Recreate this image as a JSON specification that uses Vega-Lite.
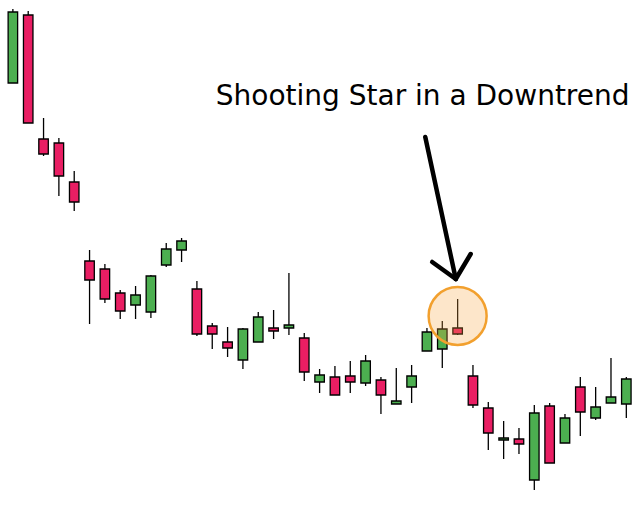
{
  "$schema": "https://vega.github.io/schema/vega-lite/v6.json",
  "width": 637,
  "height": 509,
  "padding": 0,
  "autosize": {"type": "fit", "contains": "padding"},
  "background": "white",
  "config": {"view": {"stroke": null}},
  "datasets": {
    "candles": [
      {"i": 1, "o": 426, "h": 500, "l": 426, "c": 497},
      {"i": 2, "o": 494, "h": 498, "l": 386, "c": 386},
      {"i": 3, "o": 370, "h": 391, "l": 353, "c": 355},
      {"i": 4, "o": 366, "h": 371, "l": 313, "c": 333},
      {"i": 5, "o": 327, "h": 338, "l": 298, "c": 307},
      {"i": 6, "o": 248, "h": 259, "l": 185, "c": 229},
      {"i": 7, "o": 240, "h": 245, "l": 206, "c": 210},
      {"i": 8, "o": 216, "h": 219, "l": 190, "c": 198},
      {"i": 9, "o": 204, "h": 223, "l": 190, "c": 214},
      {"i": 10, "o": 197, "h": 234, "l": 191, "c": 233},
      {"i": 11, "o": 244, "h": 266, "l": 242, "c": 260},
      {"i": 12, "o": 259, "h": 271, "l": 247, "c": 268},
      {"i": 13, "o": 220, "h": 228, "l": 173, "c": 175},
      {"i": 14, "o": 183, "h": 186, "l": 160, "c": 175},
      {"i": 15, "o": 167, "h": 182, "l": 152, "c": 161},
      {"i": 16, "o": 149, "h": 181, "l": 140, "c": 180},
      {"i": 17, "o": 167, "h": 197, "l": 167, "c": 192},
      {"i": 18, "o": 181, "h": 199, "l": 170, "c": 178},
      {"i": 19, "o": 181, "h": 236, "l": 174, "c": 184},
      {"i": 20, "o": 171, "h": 176, "l": 128, "c": 137},
      {"i": 21, "o": 127, "h": 140, "l": 116, "c": 134},
      {"i": 22, "o": 132, "h": 143, "l": 114, "c": 114},
      {"i": 23, "o": 133, "h": 148, "l": 116, "c": 127},
      {"i": 24, "o": 126, "h": 154, "l": 123, "c": 148},
      {"i": 25, "o": 129, "h": 132, "l": 95, "c": 114},
      {"i": 26, "o": 105, "h": 141, "l": 105, "c": 108},
      {"i": 27, "o": 122, "h": 144, "l": 106, "c": 133},
      {"i": 28, "o": 158, "h": 181, "l": 158, "c": 177},
      {"i": 29, "o": 160, "h": 188, "l": 141, "c": 180},
      {"i": 30, "o": 181, "h": 210, "l": 174, "c": 175},
      {"i": 31, "o": 133, "h": 144, "l": 101, "c": 104},
      {"i": 32, "o": 101, "h": 107, "l": 59, "c": 76},
      {"i": 33, "o": 69, "h": 88, "l": 50, "c": 71},
      {"i": 34, "o": 70, "h": 81, "l": 55, "c": 65},
      {"i": 35, "o": 29, "h": 104, "l": 19, "c": 96},
      {"i": 36, "o": 103, "h": 106, "l": 46, "c": 46},
      {"i": 37, "o": 66, "h": 95, "l": 66, "c": 91},
      {"i": 38, "o": 122, "h": 132, "l": 73, "c": 97},
      {"i": 39, "o": 91, "h": 122, "l": 89, "c": 102},
      {"i": 40, "o": 106, "h": 151, "l": 106, "c": 112},
      {"i": 41, "o": 105, "h": 132, "l": 91, "c": 130}
    ],
    "arrow": [
      {"x": 27.89, "y": 372, "x2": 29.88, "y2": 230},
      {"x": 28.34, "y": 247, "x2": 29.88, "y2": 230},
      {"x": 30.85, "y": 255, "x2": 29.88, "y2": 230}
    ],
    "highlight": [{"i": 30, "p": 193}],
    "label": [{"i": 14.23, "p": 404, "text": "Shooting Star in a Downtrend"}]
  },
  "encoding": {
    "x": {
      "field": "i",
      "type": "quantitative",
      "scale": {"domain": [0.4865, 41.37], "nice": false, "zero": false},
      "axis": null
    }
  },
  "layer": [
    {
      "data": {"name": "candles"},
      "mark": {"type": "rule", "color": "black", "strokeWidth": 1.3},
      "encoding": {
        "y": {"field": "l", "type": "quantitative", "scale": {"domain": [0, 509], "nice": false, "zero": false}, "axis": null},
        "y2": {"field": "h"}
      }
    },
    {
      "data": {"name": "candles"},
      "mark": {"type": "bar", "orient": "vertical", "size": 9.5, "stroke": "black", "strokeWidth": 1.3},
      "encoding": {
        "y": {"field": "o", "type": "quantitative"},
        "y2": {"field": "c"},
        "color": {
          "condition": {"test": "datum.c >= datum.o", "value": "#4CAF50"},
          "value": "#E91E63"
        }
      }
    },
    {
      "data": {"name": "highlight"},
      "mark": {"type": "point", "filled": true, "shape": "circle", "size": 3364, "fill": "#F7A440", "fillOpacity": 0.28, "stroke": "#F2A02E", "strokeWidth": 2.5, "strokeOpacity": 1},
      "encoding": {
        "y": {"field": "p", "type": "quantitative"}
      }
    },
    {
      "data": {"name": "arrow"},
      "mark": {"type": "rule", "color": "black", "strokeWidth": 4.5, "strokeCap": "round"},
      "encoding": {
        "x": {"field": "x", "type": "quantitative"},
        "x2": {"field": "x2"},
        "y": {"field": "y", "type": "quantitative"},
        "y2": {"field": "y2"}
      }
    },
    {
      "data": {"name": "label"},
      "mark": {"type": "text", "align": "left", "baseline": "alphabetic", "font": "DejaVu Sans", "fontSize": 28, "color": "black"},
      "encoding": {
        "y": {"field": "p", "type": "quantitative"},
        "text": {"field": "text"}
      }
    }
  ]
}
